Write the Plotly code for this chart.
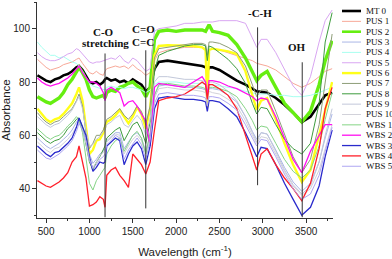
import plotly.graph_objects as go

# Wavenumber grid (cm-1)
wn = [400, 450, 500, 550, 600, 650, 700, 750, 800, 850, 880, 920, 960, 1000, 1040, 1080, 1120, 1160, 1180, 1200,
      1250, 1300, 1350, 1400, 1450, 1500, 1550, 1600, 1650, 1700, 1750, 1800, 1900, 2000, 2100, 2200, 2300, 2340,
      2360, 2380, 2420, 2500, 2600, 2700, 2800, 2880, 2930, 2980, 3050, 3150, 3250, 3350, 3450, 3550, 3650, 3720, 3800]

mt0 = [82.5, 81.5, 80.5, 80, 81, 81.5, 82.5, 83, 84, 85.5, 86, 84.5, 82, 80, 79.5, 80, 79, 80, 81, 81.5,
       80.5, 81, 80, 80.5, 79.5, 81, 80, 79, 76.5, 78, 85, 87.5, 88, 87.5, 87, 86.5, 86, 85.5,
       84, 85.5, 85.5, 84.5, 82.5, 80.5, 79, 77.5, 76.5, 76.3, 76, 74, 71.5, 68.5, 65, 67, 72, 75, 76]
pus1 = [88.5, 87, 85.5, 84.5, 85, 85.5, 86.5, 87, 87.5, 88.5, 89, 87, 85, 83.5, 83, 84, 83, 82.5, 84, 85,
        85.5, 86, 85.5, 86, 85, 86.5, 85, 84, 82.5, 83.5, 88, 91, 92, 92.5, 93, 93, 93, 92.5,
        89, 92, 92.5, 92, 91, 90, 89, 88, 87, 86.5, 86, 84.5, 82, 79.5, 78, 79.5, 82, 84, 85]
pus2 = [74.5, 73.5, 72.5, 72, 73, 74, 76, 79, 81, 84, 85.5, 83.5, 81, 77, 74.5, 74, 74.5, 75, 74, 76,
        77, 76.5, 78, 78.5, 79.5, 80, 78.5, 77.5, 74.5, 78, 96, 99, 99.5, 99, 99.5, 99.5, 99.5, 99,
        100, 101.5, 99, 98.5, 97.5, 94, 89, 84, 80.5, 82.5, 84, 78, 72, 68.5, 65, 69, 79, 88, 95.5]
pus3 = [59, 57.5, 56, 55, 56, 57, 58.5, 60, 62, 65, 66, 63, 59, 53, 49.5, 51, 53, 54, 55, 58,
        59.5, 61, 61, 55, 57.5, 60, 61, 59, 54, 60, 75, 78.5, 79, 78.5, 78, 78, 77.5, 77,
        74, 77.5, 77.5, 77, 75, 72.5, 67, 61.5, 58.5, 61, 60.5, 54.5, 48, 42.5, 39, 42, 50, 59, 68]
pus4 = [95, 93, 91.5, 90, 90, 89, 89.5, 88.5, 87.5, 87, 86, 84, 82, 79.5, 78.5, 78, 77.5, 77, 77, 78,
        78.5, 78, 78, 77.5, 78, 78, 77.5, 77, 76, 77, 79, 80, 80, 80, 79.5, 79.5, 79.5, 79,
        77, 79, 79, 78.5, 78, 77.5, 76.5, 76, 75.5, 75.5, 75.5, 75, 75, 74.5, 74.5, 75, 76, 77, 78]
pus5 = [91, 89.5, 88.5, 88, 88, 88.5, 89.5, 90.5, 91, 92.5, 92, 90.5, 89, 87.5, 87, 87.5, 87.5, 88, 88, 88.5,
        89, 88.5, 90, 88, 87, 89, 88, 86, 84, 85, 99, 100, 100.5, 101, 102, 102, 102.5, 102.5,
        102.5, 102.5, 102.5, 103, 103, 103, 102, 96.5, 93, 96, 96, 91, 84.5, 78.5, 75, 82, 95, 103, 107]
pus6 = [70, 68, 66, 65, 66, 66.5, 68, 70, 72, 75.5, 78, 73, 62, 53, 54.5, 58, 58.5, 61, 63, 65,
        66, 67.5, 69.5, 67, 64.5, 67, 70.5, 68, 62.5, 70, 90, 93.5, 93.8, 93.7, 93.5, 93.5, 93, 92,
        70.5, 92, 92.5, 92, 91.5, 90.5, 84, 75, 69.5, 73, 74, 66, 57, 49, 42.5, 47, 60, 70, 80]
pus7 = [68.5, 66.5, 65, 64, 65, 65.5, 67, 68.5, 70, 73, 75.5, 71, 61, 55, 57, 60, 60, 62, 64, 66,
        67, 68.5, 70, 67.5, 66, 68, 71, 69, 64, 71, 89, 92.5, 93, 93.5, 94, 94.5, 94.5, 94,
        90, 95, 95, 94.5, 93, 91, 86, 79, 74.5, 77, 77, 69, 60.5, 52, 46, 51, 64, 80, 98]
pus8 = [61, 59.5, 58, 57, 58, 58.5, 60, 62.5, 64, 66, 66.5, 63, 57, 50, 47, 50, 52, 55, 56, 59,
        60.5, 62, 63, 58, 61, 64, 65, 62, 57, 65, 84, 90, 91.5, 92.5, 93.5, 94, 94, 93.5,
        88, 93.5, 93, 91, 88.5, 85, 79.5, 72, 68, 70.5, 70, 64, 58.5, 55, 53, 57, 72, 95, 106]
pus9 = [67, 65.5, 64, 63, 64, 64.5, 66, 67.5, 69.5, 72.5, 74.5, 70, 62, 56, 56.5, 58.5, 59.5, 61.5, 62, 64,
        65, 66.5, 67.5, 64, 63, 65.5, 67.5, 65.5, 60, 66, 80, 82, 82, 81.5, 81, 81, 80.5, 80,
        76, 80, 80, 79, 76.5, 73, 67, 61, 57.5, 61, 60.5, 54, 47, 41.5, 38, 41, 50, 60, 70]
pus10 = [57.5, 56, 54.5, 53.5, 55, 55.5, 57, 58.5, 60.5, 63.5, 65, 62, 57, 50.5, 48, 50, 52.5, 53.5, 54.5, 57.5,
         59, 60.5, 60, 53, 56, 58.5, 60, 58, 53, 59, 74, 77.5, 78, 77.5, 77, 77, 76.5, 76,
         73, 76.5, 76, 75.5, 73.5, 71, 65.5, 60, 57, 59.5, 59, 53, 46.5, 41, 37.5, 40, 47, 55, 64]
wbs1 = [62.5, 61, 59.5, 58.5, 59.5, 60, 61.5, 63.5, 65, 67, 66, 61, 52, 42, 39.5, 43, 45, 47, 48, 53,
        56, 58, 59, 54, 57, 60, 61.5, 59, 53, 61, 75, 79, 79.5, 79, 78.5, 78.5, 78, 77.5,
        74.5, 78, 78, 77.5, 76.5, 74.5, 70, 65.5, 62, 63.5, 63, 57, 51, 46.5, 44, 47, 56, 66, 76]
wbs2 = [81.5, 80, 79, 78.5, 79, 79.5, 80.5, 81.5, 83, 85, 86, 83.5, 81.5, 80, 80, 79.5, 78.5, 76, 73, 77,
        78, 77, 76, 71, 72.5, 73, 71, 68, 65.5, 56, 78, 79.5, 79, 78.5, 78, 80, 82, 80,
        75, 80.5, 80.5, 80, 78.5, 77.5, 76, 74.5, 73, 74, 73.5, 67, 59, 51, 46, 54, 60, 64, 64]
wbs3 = [56, 54.5, 53, 52, 53.5, 54, 55.5, 57, 59, 63, 66.5, 63, 60, 52, 46.5, 48, 50, 49.5, 50, 56,
        57.5, 59, 58, 49, 53, 56, 57.5, 55, 49, 56, 70, 74, 74.5, 74, 73.5, 73.5, 73, 72.5,
        69, 73, 73, 72.5, 70, 67, 61, 55.5, 52, 55.5, 55, 49, 42, 36, 30, 33, 41, 52, 62]
wbs4 = [43, 42, 41, 40.5, 41.5, 42.5, 44, 46, 50, 52, 56, 50, 44, 33.5, 34, 35, 37, 36, 33, 45,
        47, 48, 45, 43, 40.5, 53, 51, 49, 45.5, 50, 62, 73, 74, 74.5, 75.5, 77.5, 80, 79,
        73.5, 79, 79, 77.5, 75, 70, 60, 52, 47, 53, 55, 49, 44, 40, 35.5, 42, 55, 70, 78]
wbs5 = [54.5, 53, 51.5, 51, 52, 53, 54.5, 56, 58, 61.5, 64.5, 62, 58, 51, 47.5, 49, 51, 52, 53, 56.5,
        58, 60, 59, 51, 54.5, 57, 59, 56.5, 51, 58, 72, 75.5, 76, 75.5, 75, 75, 74.5, 74,
        71, 74.5, 74.5, 74, 72, 69.5, 64, 59, 56, 58.5, 58, 52, 45.5, 40, 36, 38, 45, 54, 63]

series_names = ["MT 0", "PUS 1", "PUS 2", "PUS 3", "PUS 4", "PUS 5", "PUS 6", "PUS 7", "PUS 8",
                "PUS 9", "PUS 10", "WBS 1", "WBS 2", "WBS 3", "WBS 4", "WBS 5"]
series_values = [mt0, pus1, pus2, pus3, pus4, pus5, pus6, pus7, pus8, pus9, pus10, wbs1, wbs2, wbs3, wbs4, wbs5]
series_colors = ["#000000", "#F7A898", "#66EE11", "#AAB6E6", "#A8FFF0", "#D9A6F2", "#FFFF1A", "#8E9E78",
                 "#3E9C3E", "#C2C8DA", "#D2D2DA", "#86D486", "#FF10F0", "#2A2ACC", "#FF1F2A", "#AEA6F2"]
series_widths = [2.6, 1, 3.4, 1, 1, 1, 2.4, 1, 1, 1, 1, 1, 1.3, 1.3, 1.3, 1]

xtick_vals = [500, 1000, 1500, 2000, 2500, 3000, 3500]
ytick_vals = [40, 60, 80, 100]

fig = go.Figure()
for name, vals, col, w in zip(series_names, series_values, series_colors, series_widths):
    fig.add_trace(go.Scatter(x=wn, y=vals, mode="lines", name=name,
                             line=dict(color=col, width=w), showlegend=False))

# Band marker lines
band_lines = [(1180, 29.3, 90.7), (1650, 32.6, 91.9), (2940, 41.3, 100.5), (3455, 29.3, 87.4)]
for bx, y0, y1 in band_lines:
    fig.add_shape(type="line", xref="x", yref="y", x0=bx, x1=bx, y0=y0, y1=y1,
                  line=dict(color="#333333", width=1), layer="above")

bold = dict(family="Liberation Serif, Times New Roman, serif", size=11, color="#111111")
band_texts = [(1157, 98.6, "C-O"), (1180, 94.5, "stretching"), (1619, 99.7, "C=O"),
              (1619, 94.9, "C=C"), (2968, 105.7, "-C-H"), (3395, 93.0, "OH")]
for tx, ty, t in band_texts:
    fig.add_annotation(x=tx, y=ty, xref="x", yref="y", text="<b>%s</b>" % t, showarrow=False,
                       font=bold, xanchor="center", yanchor="middle")

# Manual legend (paper coordinates)
L, R, T, B = 37, 333, 2, 218
def px(p):
    return (p - L) / (R - L)
def py(q):
    return (B - q) / (B - T)
for i, (name, col, w) in enumerate(zip(series_names, series_colors, series_widths)):
    yy = py(11 + i * 10.35)
    fig.add_shape(type="line", xref="paper", yref="paper", x0=px(342), x1=px(361), y0=yy, y1=yy,
                  line=dict(color=col, width=min(w, 2.6)))
    fig.add_annotation(x=px(364), y=yy, xref="paper", yref="paper", text=name, showarrow=False,
                       xanchor="left", yanchor="middle",
                       font=dict(family="Liberation Serif, Times New Roman, serif", size=9, color="#111111"))

axis_font = dict(family="Liberation Sans, Arial, sans-serif", size=10, color="#222222")
fig.update_layout(
    width=392, height=259,
    margin=dict(l=L, r=392 - R, t=T, b=259 - B, autoexpand=False),
    paper_bgcolor="white", plot_bgcolor="white",
    xaxis=dict(range=[395, 3810], tickvals=xtick_vals, ticks="outside", ticklen=4, tickwidth=1,
               tickcolor="#333333", showline=True, linecolor="#333333", linewidth=1, showgrid=False,
               zeroline=False, tickfont=axis_font, automargin=False,
               minor=dict(ticks="outside", ticklen=2, tick0=250, dtick=500, tickcolor="#333333"),
               title=dict(text="Wavelength (cm<sup>-1</sup>)", standoff=11,
                          font=dict(family="Liberation Sans, Arial, sans-serif", size=11.5, color="#222222"))),
    yaxis=dict(range=[29, 110], tickvals=ytick_vals, ticks="outside", ticklen=4, tickwidth=1,
               tickcolor="#333333", showline=True, linecolor="#333333", linewidth=1, showgrid=False,
               zeroline=False, tickfont=axis_font, automargin=False,
               minor=dict(ticks="outside", ticklen=2, tick0=30, dtick=20, tickcolor="#333333"),
               title=dict(text="Absorbance", standoff=0,
                          font=dict(family="Liberation Sans, Arial, sans-serif", size=11.5, color="#222222"))),
)

fig.write_html("out.html", config={"displayModeBar": False},
               post_script="document.body.style.margin='0';document.body.style.padding='0';")
